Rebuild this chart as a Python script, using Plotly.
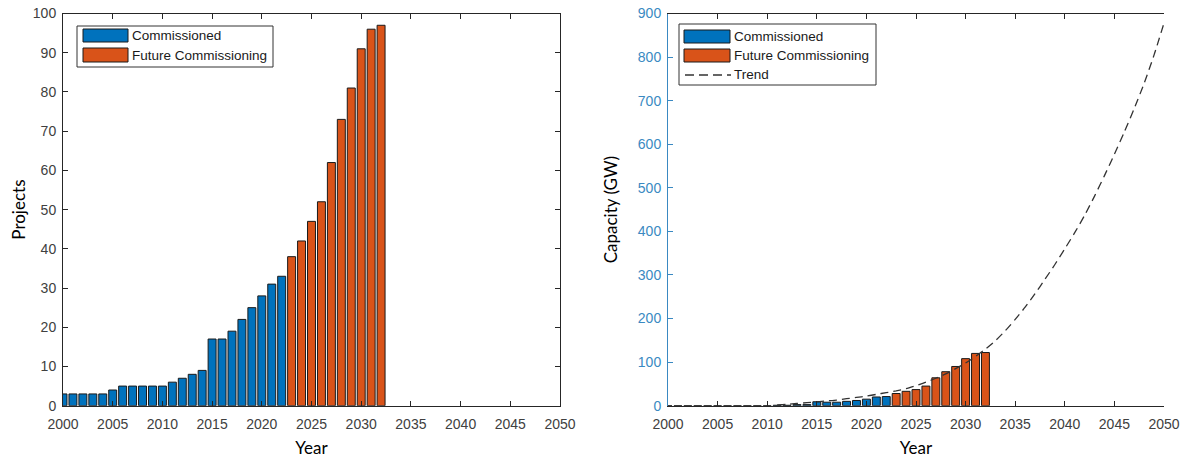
import plotly.graph_objects as go

# ---------------- data ----------------
years_commissioned = list(range(2000, 2023))
years_future = list(range(2023, 2033))

projects_commissioned = [3, 3, 3, 3, 3, 4, 5, 5, 5, 5, 5, 6, 7, 8, 9, 17, 17, 19, 22, 25, 28, 31, 33]
projects_future = [38, 42, 47, 52, 62, 73, 81, 91, 96, 97]

capacity_commissioned = [0, 0, 0, 0, 0, 0, 0, 0, 0, 0, 0, 1, 1, 2.5, 2.5, 9, 8, 8, 10, 12, 15, 20, 21]
capacity_future = [28, 33, 37, 45, 64, 78, 90, 108, 120, 122]

trend_years = list(range(2011, 2051))
trend_values = [2, 3, 5, 7, 9, 11, 13, 16, 19, 22, 26, 30, 34, 39, 46, 54, 63, 73, 85, 98,
                113, 130, 149, 172, 198, 226, 257, 290, 324, 360, 397, 437, 481, 528, 577,
                628, 682, 740, 805, 878]

year_ticks = list(range(2000, 2051, 5))

# ---------------- style ----------------
W, H = 1187, 459
BLUE = "#0072BD"
ORANGE = "#D95319"
AX = "#262626"
TICKC = "#404040"
LBLUE = "#3a89c2"
TICKFONT = dict(family="Liberation Sans, Arial", size=14, color=TICKC)
TITLEFONT = dict(family="Lato, Noto Sans", size=17, color="#000000")
LEGFONT = dict(family="Liberation Sans, Arial", size=13.5, color="#1a1a1a")


def px(x):
    return x / W


def py(y):
    return 1 - y / H


fig = go.Figure()

bar_line = dict(color="#1a1a1a", width=1)
fig.add_trace(go.Bar(x=years_commissioned, y=projects_commissioned, width=0.8,
                     marker=dict(color=BLUE, line=bar_line), name="Commissioned",
                     xaxis="x", yaxis="y", showlegend=False))
fig.add_trace(go.Bar(x=years_future, y=projects_future, width=0.8,
                     marker=dict(color=ORANGE, line=bar_line), name="Future Commissioning",
                     xaxis="x", yaxis="y", showlegend=False))
fig.add_trace(go.Bar(x=years_commissioned, y=capacity_commissioned, width=0.8,
                     marker=dict(color=BLUE, line=bar_line), name="Commissioned",
                     xaxis="x2", yaxis="y2", showlegend=False))
fig.add_trace(go.Bar(x=years_future, y=capacity_future, width=0.8,
                     marker=dict(color=ORANGE, line=bar_line), name="Future Commissioning",
                     xaxis="x2", yaxis="y2", showlegend=False))
fig.add_trace(go.Scatter(x=trend_years, y=trend_values, mode="lines", name="Trend",
                         line=dict(color="#333333", width=1.3, dash="8px,5px", shape="spline", smoothing=0.6),
                         xaxis="x2", yaxis="y2", showlegend=False))

ydom = [py(405.7), py(13.5)]

common_x = dict(range=[2000, 2050], tickvals=year_ticks, ticks="inside", ticklen=5,
                tickcolor=AX, showline=True, linecolor=AX, linewidth=1, mirror="ticks",
                showgrid=False, zeroline=False, tickfont=TICKFONT, automargin=False,
                ticklabelstandoff=5,
                title=dict(text="Year", font=TITLEFONT, standoff=11))

fig.update_layout(
    width=W, height=H,
    margin=dict(l=0, r=0, t=0, b=0),
    paper_bgcolor="white", plot_bgcolor="white",
    barmode="overlay",
    xaxis=dict(domain=[px(63), px(560)], anchor="y", **common_x),
    yaxis=dict(domain=ydom, anchor="x", range=[0, 100], dtick=10, ticks="inside", ticklen=5,
               tickcolor=AX, showline=True, linecolor=AX, linewidth=1, mirror="ticks",
               showgrid=False, zeroline=False, tickfont=TICKFONT, automargin=False,
               ticklabelstandoff=3,
               title=dict(text="Projects", font=TITLEFONT, standoff=2)),
    xaxis2=dict(domain=[px(668), px(1164)], anchor="y2", **common_x),
    yaxis2=dict(domain=ydom, anchor="x2", range=[0, 900], dtick=100, ticks="inside", ticklen=5,
                tickcolor=LBLUE, showline=True, linecolor=LBLUE, linewidth=1,
                showgrid=False, zeroline=False, automargin=False, ticklabelstandoff=3,
                tickfont=dict(family="Liberation Sans, Arial", size=14, color=LBLUE),
                title=dict(text="Capacity (GW)", font=TITLEFONT, standoff=15)),
    yaxis3=dict(overlaying="y2", anchor="x2", side="right", range=[0, 900], dtick=100,
                ticks="inside", ticklen=5, tickcolor=ORANGE, showline=True, linecolor=ORANGE,
                linewidth=1, showticklabels=False, showgrid=False, zeroline=False,
                automargin=False),
)

# ---------------- manual legends (MATLAB style wide patches) ----------------
shapes = []
annotations = []


def legend_box(x0, y0, x1, y1):
    shapes.append(dict(type="rect", xref="paper", yref="paper", x0=px(x0), x1=px(x1),
                       y0=py(y1), y1=py(y0), line=dict(color="#333333", width=1),
                       fillcolor="white", layer="above"))


def legend_patch(x0, y0, x1, y1, color):
    shapes.append(dict(type="rect", xref="paper", yref="paper", x0=px(x0), x1=px(x1),
                       y0=py(y1), y1=py(y0), line=dict(color="#1a1a1a", width=1),
                       fillcolor=color, layer="above"))


def legend_text(x, y, text):
    annotations.append(dict(xref="paper", yref="paper", x=px(x), y=py(y), text=text,
                            showarrow=False, xanchor="left", yanchor="middle", font=LEGFONT))


# left legend
legend_box(77, 26, 273, 67)
legend_patch(83, 29, 128, 42, BLUE)
legend_patch(83, 48, 128, 62, ORANGE)
legend_text(130, 36, "Commissioned")
legend_text(130, 55.5, "Future Commissioning")

# right legend
legend_box(679, 24, 876, 85)
legend_patch(684, 30, 730, 43, BLUE)
legend_patch(684, 49, 730, 62, ORANGE)
shapes.append(dict(type="line", xref="paper", yref="paper", x0=px(685), x1=px(731),
                   y0=py(75), y1=py(75), line=dict(color="#333333", width=1.3, dash="9px,5px"),
                   layer="above"))
legend_text(732, 36.5, "Commissioned")
legend_text(732, 55.5, "Future Commissioning")
legend_text(732, 75, "Trend")

fig.update_layout(shapes=shapes, annotations=annotations)

fig.write_html(
    "out.html",
    config={"displayModeBar": False},
    post_script="document.body.style.margin='0';document.body.style.overflow='hidden';"
                "document.documentElement.style.overflow='hidden';",
)
